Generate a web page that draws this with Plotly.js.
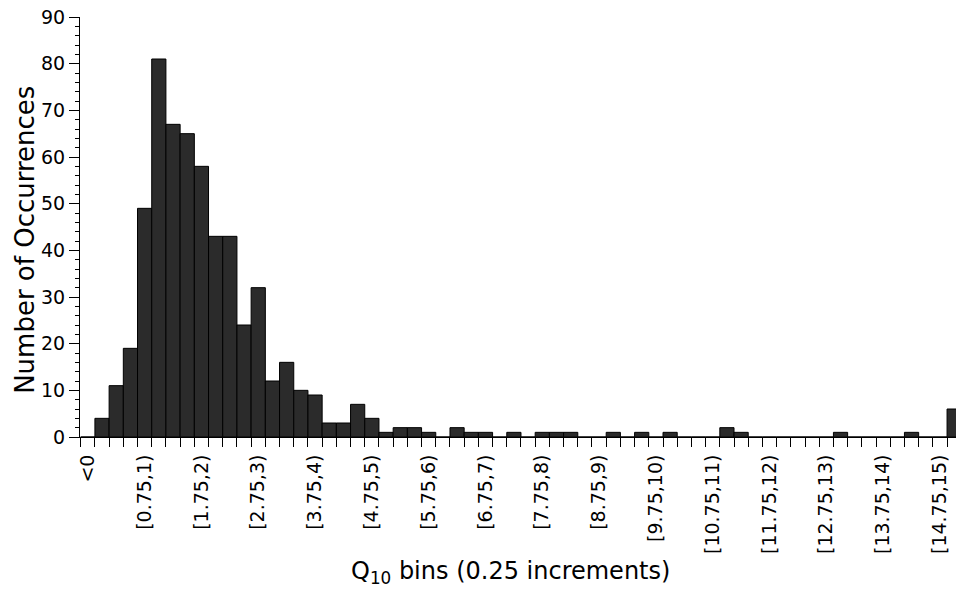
<!DOCTYPE html>
<html>
<head>
<meta charset="utf-8">
<script src="https://cdn.plot.ly/plotly-3.0.1.min.js"></script>
<style>
  html, body { margin: 0; padding: 0; background: #fff; }
  #chart { width: 956px; height: 592px; }
</style>
</head>
<body>
<div id="chart"></div>
<script>
// Bin labels (0.25 increments); "<0" first, last bin beyond 15 is unlabeled in the figure
var binLabels = ["<0",
  "[0,0.25)","[0.25,0.5)","[0.5,0.75)","[0.75,1)",
  "[1,1.25)","[1.25,1.5)","[1.5,1.75)","[1.75,2)",
  "[2,2.25)","[2.25,2.5)","[2.5,2.75)","[2.75,3)",
  "[3,3.25)","[3.25,3.5)","[3.5,3.75)","[3.75,4)",
  "[4,4.25)","[4.25,4.5)","[4.5,4.75)","[4.75,5)",
  "[5,5.25)","[5.25,5.5)","[5.5,5.75)","[5.75,6)",
  "[6,6.25)","[6.25,6.5)","[6.5,6.75)","[6.75,7)",
  "[7,7.25)","[7.25,7.5)","[7.5,7.75)","[7.75,8)",
  "[8,8.25)","[8.25,8.5)","[8.5,8.75)","[8.75,9)",
  "[9,9.25)","[9.25,9.5)","[9.5,9.75)","[9.75,10)",
  "[10,10.25)","[10.25,10.5)","[10.5,10.75)","[10.75,11)",
  "[11,11.25)","[11.25,11.5)","[11.5,11.75)","[11.75,12)",
  "[12,12.25)","[12.25,12.5)","[12.5,12.75)","[12.75,13)",
  "[13,13.25)","[13.25,13.5)","[13.5,13.75)","[13.75,14)",
  "[14,14.25)","[14.25,14.5)","[14.5,14.75)","[14.75,15)",
  ">=15"];

// Number of occurrences per bin
var counts = [0,
  4,11,19,49,
  81,67,65,58,
  43,43,24,32,
  12,16,10,9,
  3,3,7,4,
  1,2,2,1,
  0,2,1,1,
  0,1,0,1,
  1,1,0,0,
  1,0,1,0,
  1,0,0,0,
  2,1,0,0,
  0,0,0,0,
  1,0,0,0,
  0,1,0,0,
  6];

// Which bins carry a printed tick label
var labelEvery = 4;
var labelledBins = [];
var labelledText = [];
for (var i = 0; i < binLabels.length - 1; i++) {
  if (i % labelEvery === 0) { labelledBins.push(i); labelledText.push(binLabels[i]); }
}
var binIndex = binLabels.map(function (_, i) { return i; });

var FONT = "DejaVu Sans, Liberation Sans, Arial, sans-serif";

var trace = {
  type: "bar",
  x: binIndex,
  y: counts,
  width: 1,
  marker: {
    color: "#2b2b2b",
    line: { color: "#000", width: 1 }
  },
  hovertext: binLabels,
  cliponaxis: true
};

var layout = {
  width: 956, height: 592,
  paper_bgcolor: "#fff", plot_bgcolor: "#fff",
  margin: { l: 80, r: 0, t: 17, b: 155 },
  showlegend: false,
  bargap: 0,
  font: { family: FONT, color: "#000", size: 19 },
  xaxis: {
    range: [-0.55, 61.13],
    tickmode: "array",
    tickvals: labelledBins,
    ticktext: labelledText,
    tickangle: -90,
    ticks: "outside", ticklen: 9, tickcolor: "rgba(0,0,0,0)",
    tickfont: { family: FONT, size: 19, color: "#000" },
    minor: { tickmode: "linear", tick0: 0.5, dtick: 1, ticks: "outside", ticklen: 9, tickcolor: "#000", tickwidth: 1, showgrid: false },
    showline: true, linecolor: "#000", linewidth: 1,
    showgrid: false, zeroline: false, fixedrange: true
  },
  yaxis: {
    range: [0, 90],
    tickmode: "linear", tick0: 0, dtick: 10,
    ticks: "outside", ticklen: 10, tickcolor: "#000", tickwidth: 1,
    tickfont: { family: FONT, size: 19, color: "#000" },
    minor: { tickmode: "linear", tick0: 0, dtick: 2, ticks: "outside", ticklen: 4, tickcolor: "#000", showgrid: false },
    showline: true, linecolor: "#000", linewidth: 1,
    showgrid: false, zeroline: false, fixedrange: true
  },
  annotations: [
    {
      text: "Number of Occurrences",
      xref: "paper", yref: "paper",
      x: (25 - 80) / 876, y: (437.3 - 240) / 420.3,
      xanchor: "center", yanchor: "middle",
      textangle: -90, showarrow: false,
      font: { family: FONT, size: 26, color: "#000" }
    },
    {
      text: "Q<sub>10</sub> bins (0.25 increments)",
      xref: "paper", yref: "paper",
      x: (510 - 80) / 876, y: (437.3 - 573) / 420.3,
      xanchor: "center", yanchor: "middle",
      showarrow: false,
      font: { family: FONT, size: 24, color: "#000" }
    }
  ]
};

Plotly.newPlot("chart", [trace], layout, { displayModeBar: false, staticPlot: true });
</script>
</body>
</html>
